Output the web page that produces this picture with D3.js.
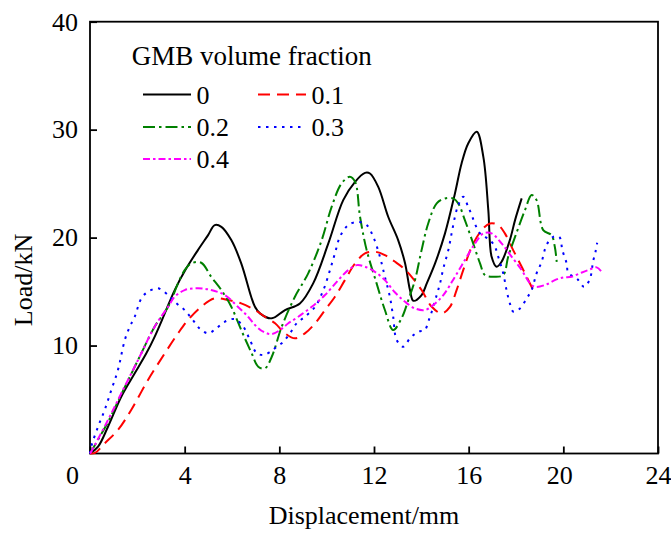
<!DOCTYPE html>
<html><head><meta charset="utf-8">
<script src="https://cdn.jsdelivr.net/npm/d3@7"></script>
<style>
html,body{margin:0;padding:0;background:#fff;}
svg text{font-family:"Liberation Serif","Times New Roman",serif;fill:#000;}
</style></head>
<body><svg id="chart" width="671" height="538"></svg>
<script>
// ---- data ----
const legendTitle = "GMB volume fraction";
const xTicks = [0, 4, 8, 12, 16, 20, 24];
const yTicks = [10, 20, 30, 40];
const xLabel = "Displacement/mm";
const yLabel = "Load/kN";

const seriesNames = ["0", "0.1", "0.2", "0.3", "0.4"];

const disp00 = [0,0.34,0.76,1.32,1.89,2.38,2.73,3.16,3.58,4.07,4.56,4.99,5.27,5.55,5.97,6.39,6.81,6.97,7.18,7.68,8.24,8.87,9.43,10.07,10.70,11.2,11.62,11.83,12.18,12.6,13.02,13.31,13.52,13.66,14.01,14.23,14.58,15.0,15.42,15.7,15.98,16.34,16.62,16.83,16.97,17.18,17.39,17.74,17.96,18.24];
const load00 = [0,0.63,2.48,5.26,7.43,9.28,10.81,12.98,15.14,17.15,18.84,20.23,21.16,21.0,19.77,17.61,14.52,13.59,12.98,12.52,13.29,13.9,15.76,19.46,23.47,25.17,26.0,25.94,24.7,21.93,19.77,17.64,15.14,14.15,14.68,15.76,17.61,20.39,24.09,26.87,28.72,29.8,27.48,22.55,18.22,17.3,17.76,19.77,21.62,23.63];

const disp01 = [0,0.21,0.62,1.18,1.74,2.45,3.16,3.72,4.14,4.70,5.27,5.83,6.39,6.97,7.39,7.82,8.24,8.66,9.08,9.51,9.93,10.35,10.77,11.2,11.62,12.04,12.46,12.89,13.24,13.59,14.01,14.44,14.86,15.21,15.49,15.77,16.13,16.55,16.9,17.25,17.53,17.88,18.24,18.52,18.73];
const load01 = [0,0.05,0.94,2.18,4.03,6.81,9.28,11.13,12.36,13.59,14.37,14.21,13.91,13.29,12.67,12.06,11.13,10.67,11.13,12.06,13.29,14.52,16.06,17.61,18.54,18.69,18.38,17.76,17.18,16.37,15.14,13.59,12.98,13.59,15.14,16.99,19.15,20.69,21.31,21.16,20.39,18.84,17.3,16.06,15.14];

const disp02 = [0,0.76,1.31,2.03,2.73,3.30,3.72,4.0,4.28,4.70,5.12,5.55,5.97,6.39,6.83,7.11,7.39,7.68,8.10,8.66,9.22,9.79,10.21,10.63,10.98,11.2,11.41,11.69,12.11,12.46,12.81,13.17,13.45,13.73,14.01,14.29,14.65,15.0,15.35,15.56,15.84,16.19,16.48,16.69,17.11,17.46,17.67,17.96,18.38,18.66,18.87,19.15,19.5,19.64,19.72];
const load02 = [0,2.92,5.42,8.66,11.74,13.59,15.76,16.99,17.61,17.67,16.37,15.14,13.59,11.44,9.28,8.04,7.89,8.96,11.74,14.52,16.69,19.77,22.85,25.02,25.63,25.17,21.93,18.84,15.76,13.29,11.44,12.55,14.21,16.06,18.84,21.31,23.17,23.63,23.63,23.17,21.62,19.46,17.61,16.53,16.37,16.53,18.22,20.07,22.55,23.94,23.47,20.69,20.23,19.15,17.76];

const disp03 = [0,0.05,0.34,0.62,0.90,1.18,1.47,1.68,1.89,2.17,2.45,2.87,3.30,3.65,4.0,4.35,4.63,4.99,5.34,5.69,6.11,6.48,6.76,7.04,7.32,7.60,7.89,8.17,8.45,8.73,9.08,9.51,9.86,10.14,10.35,10.56,10.91,11.34,11.69,11.97,12.25,12.46,12.67,12.81,12.96,13.24,13.52,13.87,14.15,14.29,14.44,14.65,14.79,14.93,15.14,15.28,15.42,15.56,15.77,15.98,16.13,16.27,16.48,16.69,16.9,17.11,17.25,17.46,17.6,17.74,17.89,18.17,18.45,18.66,18.87,19.08,19.29,19.57,19.83,19.96,20.14,20.21,20.59,20.88,21.12,21.26,21.36,21.43];
const load03 = [0,0.63,2.48,4.03,5.88,7.73,10.51,11.74,12.67,14.37,14.98,15.3,14.68,13.91,13.29,12.36,11.59,11.13,11.59,12.2,12.45,11.74,10.51,9.31,9.12,9.4,9.89,10.35,11.13,12.06,12.67,13.59,15.14,16.99,18.54,20.07,21.16,21.46,21.16,20.07,18.22,16.37,14.52,12.67,10.51,9.89,10.67,11.28,11.44,12.2,13.13,14.68,15.76,17.15,18.84,20.39,21.93,23.01,23.78,22.85,22.08,21.25,20.39,20.07,19.77,19.15,18.22,16.69,15.14,13.91,13.13,13.44,14.37,15.14,16.69,17.73,19.31,20.07,20.07,18.84,17.61,16.74,16.16,15.44,16.16,17.82,18.69,19.52];

const disp04 = [0,0.05,0.76,1.32,2.03,2.73,3.30,3.58,4.0,4.56,5.12,5.69,6.25,6.68,6.97,7.32,7.68,8.03,8.38,8.80,9.37,9.93,10.49,10.91,11.27,11.62,12.04,12.46,12.89,13.31,13.73,14.15,14.50,14.93,15.42,15.84,16.27,16.62,16.97,17.39,17.82,18.24,18.59,18.80,19.22,19.64,20.0,20.35,20.7,21.05,21.41,21.62];
const load04 = [0,0.17,3.1,5.57,8.66,11.74,13.59,14.52,15.14,15.3,15.14,14.68,13.59,12.67,11.9,11.28,11.06,11.44,12.06,12.67,13.59,14.68,16.06,16.99,17.45,17.3,16.83,16.06,14.91,14.06,13.44,13.29,13.75,14.68,16.37,17.92,19.46,20.39,20.39,19.46,18.22,16.99,15.76,15.44,15.6,16.06,16.31,16.37,16.69,16.99,17.24,16.83];

const seriesDisp = [disp00, disp01, disp02, disp03, disp04];
const seriesLoad = [load00, load01, load02, load03, load04];
const seriesColors = ["#000000", "#ff0000", "#008000", "#0000ff", "#ff00ff"];
const seriesDash = [null, "12,7", "12,4,2.5,4", "2.5,5.5", "7,3,2.5,3"];

// ---- layout ----
const svg = d3.select("#chart");
const m = {left: 90, right: 13, top: 21.7, bottom: 84.5};
const W = 671, H = 538;
const x = d3.scaleLinear().domain([0, 24]).range([m.left, W - m.right]);
const y = d3.scaleLinear().domain([0, 40]).range([H - m.bottom, m.top]);

// frame
svg.append("rect").attr("x", x(0)).attr("y", y(40))
  .attr("width", x(24) - x(0)).attr("height", y(0) - y(40))
  .attr("fill", "none").attr("stroke", "#000").attr("stroke-width", 1.8);

// x axis
const xAxis = svg.append("g").attr("transform", `translate(0,${y(0)})`)
  .call(d3.axisBottom(x).tickValues(xTicks).tickSizeInner(-7).tickSizeOuter(0).tickPadding(12));
xAxis.select(".domain").remove();
xAxis.selectAll("line").attr("stroke", "#000").attr("stroke-width", 1.8);
xAxis.selectAll("text").attr("font-size", 26)
  .attr("dx", d => d === 0 ? -18 : (d === 20 ? -4 : 0));

// y axis
const yAxis = svg.append("g").attr("transform", `translate(${x(0)},0)`)
  .call(d3.axisLeft(y).tickValues(yTicks).tickSizeInner(-7).tickSizeOuter(0).tickPadding(12));
yAxis.select(".domain").remove();
yAxis.selectAll("line").attr("stroke", "#000").attr("stroke-width", 1.8);
yAxis.selectAll("text").attr("font-size", 26);

// axis titles
svg.append("text").attr("x", 364).attr("y", 524).attr("text-anchor", "middle")
  .attr("font-size", 26).text(xLabel);
svg.append("text").attr("transform", "translate(32,280) rotate(-90)")
  .attr("text-anchor", "middle").attr("font-size", 26).text(yLabel);

// curves
const line = d3.line().x(d => x(d[0])).y(d => y(d[1])).curve(d3.curveCatmullRom.alpha(0.5));
seriesNames.forEach((name, i) => {
  const pts = seriesDisp[i].map((v, j) => [v, seriesLoad[i][j]]);
  svg.append("path").datum(pts).attr("d", line)
    .attr("fill", "none").attr("stroke", seriesColors[i]).attr("stroke-width", 2)
    .attr("stroke-dasharray", seriesDash[i]);
});

// legend
svg.append("text").attr("x", 131.7).attr("y", 65).attr("font-size", 27).text(legendTitle);
const legPos = [[143, 94.5], [258, 94.5], [143, 127], [258, 127], [143, 159]];
seriesNames.forEach((name, i) => {
  const [lx, ly] = legPos[i];
  const len = 48;
  svg.append("line").attr("x1", lx).attr("x2", lx + len).attr("y1", ly).attr("y2", ly)
    .attr("stroke", seriesColors[i]).attr("stroke-width", 2).attr("stroke-dasharray", seriesDash[i]);
  svg.append("text").attr("x", lx + len + 5.5).attr("y", ly + 9).attr("font-size", 26).text(name);
});
</script></body></html>
